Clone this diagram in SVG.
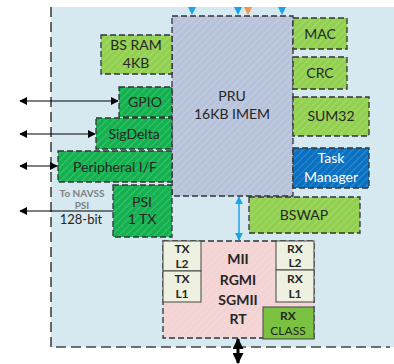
<svg xmlns="http://www.w3.org/2000/svg" width="394" height="364" viewBox="0 0 394 364">
<defs>
<pattern id="hatch" width="5" height="5" patternUnits="userSpaceOnUse" patternTransform="rotate(45)">
<rect width="5" height="5" fill="none"/>
<line x1="0" y1="0" x2="0" y2="5" stroke="#ffffff" stroke-opacity="0.25" stroke-width="1.5"/>
</pattern>
<marker id="ah" viewBox="0 0 10 10" refX="9" refY="5" markerWidth="8" markerHeight="8" markerUnits="userSpaceOnUse" orient="auto-start-reverse">
<path d="M0,0 L10,5 L0,10 z" fill="#000"/>
</marker>
<marker id="ahc" viewBox="0 0 10 10" refX="9" refY="5" markerWidth="8" markerHeight="8" markerUnits="userSpaceOnUse" orient="auto-start-reverse">
<path d="M0,0 L10,5 L0,10 z" fill="#1aa3e8"/>
</marker>
<marker id="ahb" viewBox="0 0 10 10" refX="9" refY="5" markerWidth="11" markerHeight="11" markerUnits="userSpaceOnUse" orient="auto-start-reverse">
<path d="M0,0 L10,5 L0,10 z" fill="#000"/>
</marker>
</defs>
<style>
.t{font-family:Lato,"Open Sans","Liberation Sans",sans-serif;font-size:14px;fill:#262626;text-anchor:middle}
.s{font-size:12px}
.w{fill:#ffffff}
.dash{stroke:#333;stroke-width:1.3;stroke-dasharray:6,3}
.lg{fill:#92d050}
.dg{fill:#13b14f}
.h{fill:url(#hatch)}
</style>
<rect x="51" y="7" width="343" height="340" fill="#d6e9f1"/>
<path d="M51,7 V347 H390" fill="none" stroke="#444" stroke-width="1.6" stroke-dasharray="10,5"/>

<g id="pru"><rect x="172" y="16" width="121" height="180" fill="#b7c3da"/><rect x="172" y="16" width="121" height="180" class="h"/><rect x="172" y="16" width="121" height="180" fill="none" class="dash"/><text class="t" x="232" y="101">PRU</text><text class="t" x="232" y="119">16KB IMEM</text></g>

<g id="bsram"><rect x="101" y="35" width="71" height="39" class="lg"/><rect x="101" y="35" width="71" height="39" class="h"/><rect x="101" y="35" width="71" height="39" fill="none" class="dash"/><text class="t" x="136" y="50">BS RAM</text><text class="t" x="136" y="68">4KB</text></g>
<g id="gpio"><rect x="119" y="87" width="53" height="30" class="dg"/><rect x="119" y="87" width="53" height="30" class="h"/><rect x="119" y="87" width="53" height="30" fill="none" class="dash"/><text class="t" x="145" y="107">GPIO</text></g>
<g id="sigdelta"><rect x="96" y="118" width="76" height="31" class="dg"/><rect x="96" y="118" width="76" height="31" class="h"/><rect x="96" y="118" width="76" height="31" fill="none" class="dash"/><text class="t" x="134" y="139">SigDelta</text></g>
<g id="periph"><rect x="58" y="151" width="114" height="31" class="dg"/><rect x="58" y="151" width="114" height="31" class="h"/><rect x="58" y="151" width="114" height="31" fill="none" class="dash"/><text class="t" x="115" y="172">Peripheral I/F</text></g>
<g id="psi"><rect x="113" y="185" width="59" height="52" class="dg"/><rect x="113" y="185" width="59" height="52" class="h"/><rect x="113" y="185" width="59" height="52" fill="none" class="dash"/><text class="t" x="142" y="207">PSI</text><text class="t" x="142" y="224">1 TX</text></g>
<g id="navss"><text class="t" x="82" y="197" style="font-size:10px;font-weight:bold;fill:#7f7f7f">To NAVSS</text><text class="t" x="82" y="209" style="font-size:10px;font-weight:bold;fill:#7f7f7f">PSI</text><text class="t" x="81" y="224" style="font-size:13px">128-bit</text></g>

<g id="mac"><rect x="293" y="18" width="54" height="31" class="lg"/><rect x="293" y="18" width="54" height="31" class="h"/><rect x="293" y="18" width="54" height="31" fill="none" class="dash"/><text class="t" x="320" y="39">MAC</text></g>
<g id="crc"><rect x="293" y="57" width="54" height="32" class="lg"/><rect x="293" y="57" width="54" height="32" class="h"/><rect x="293" y="57" width="54" height="32" fill="none" class="dash"/><text class="t" x="320" y="78">CRC</text></g>
<g id="sum32"><rect x="293" y="97" width="76" height="39" class="lg"/><rect x="293" y="97" width="76" height="39" class="h"/><rect x="293" y="97" width="76" height="39" fill="none" class="dash"/><text class="t" x="331" y="121">SUM32</text></g>
<g id="task"><rect x="293" y="148" width="76" height="40" fill="#0a70c2"/><rect x="293" y="148" width="76" height="40" class="h"/><rect x="293" y="148" width="76" height="40" fill="none" class="dash"/><text class="t w" x="331" y="163">Task</text><text class="t w" x="331" y="182">Manager</text></g>
<g id="bswap"><rect x="249" y="197" width="111" height="36" class="lg"/><rect x="249" y="197" width="111" height="36" class="h"/><rect x="249" y="197" width="111" height="36" fill="none" class="dash"/><text class="t" x="304" y="220">BSWAP</text></g>

<g id="mii"><rect x="163" y="241" width="151" height="97" fill="#f3d3d3"/><rect x="163" y="241" width="151" height="97" class="h"/><rect x="163" y="241" width="151" height="97" fill="none" class="dash"/><text class="t" x="238" y="264" style="font-weight:bold">MII</text><text class="t" x="238" y="285" style="font-weight:bold">RGMI</text><text class="t" x="238" y="305" style="font-weight:bold">SGMII</text><text class="t" x="238" y="324" style="font-weight:bold">RT</text></g>
<g id="txl2"><rect x="163" y="241" width="38" height="30" fill="#eef0e0" stroke="#444" stroke-width="1"/><text class="t s" x="182" y="253" style="font-weight:bold">TX</text><text class="t s" x="182" y="268" style="font-weight:bold">L2</text></g>
<g id="txl1"><rect x="163" y="271" width="38" height="31" fill="#eef0e0" stroke="#444" stroke-width="1"/><text class="t s" x="182" y="283" style="font-weight:bold">TX</text><text class="t s" x="182" y="298" style="font-weight:bold">L1</text></g>
<g id="rxl2"><rect x="276" y="241" width="38" height="29" fill="#eef0e0" stroke="#444" stroke-width="1"/><text class="t s" x="295" y="253" style="font-weight:bold">RX</text><text class="t s" x="295" y="267" style="font-weight:bold">L2</text></g>
<g id="rxl1"><rect x="276" y="270" width="38" height="32" fill="#eef0e0" stroke="#444" stroke-width="1"/><text class="t s" x="295" y="283" style="font-weight:bold">RX</text><text class="t s" x="295" y="298" style="font-weight:bold">L1</text></g>
<g id="rxclass"><rect x="263" y="307" width="51" height="32" fill="#7cc242" stroke="#444" stroke-width="1"/><text class="t s" x="288" y="320" style="font-weight:bold">RX</text><text class="t s" x="288" y="335">CLASS</text></g>

<g id="connectors">
<line x1="20" y1="101" x2="118" y2="101" stroke="#000" stroke-width="1.2" marker-start="url(#ah)" marker-end="url(#ah)"/>
<line x1="20" y1="134" x2="95" y2="134" stroke="#000" stroke-width="1.2" marker-start="url(#ah)" marker-end="url(#ah)"/>
<line x1="20" y1="166" x2="57" y2="166" stroke="#000" stroke-width="1.2" marker-start="url(#ah)" marker-end="url(#ah)"/>
<line x1="113" y1="211" x2="20" y2="211" stroke="#000" stroke-width="1.2" marker-end="url(#ah)"/>
<line x1="239" y1="197" x2="239" y2="240" stroke="#1aa3e8" stroke-width="1.5" marker-start="url(#ahc)" marker-end="url(#ahc)"/>
<line x1="238" y1="339" x2="238" y2="363" stroke="#000" stroke-width="3" marker-start="url(#ahb)" marker-end="url(#ahb)"/>
<path d="M188,7 h8 l-4,8 z" fill="#1aa3e8"/>
<path d="M234,7 h8 l-4,8 z" fill="#1aa3e8"/>
<path d="M244,7 h8 l-4,8 z" fill="#f4934a"/>
<path d="M278,7 h8 l-4,8 z" fill="#1aa3e8"/>
<line x1="282" y1="7" x2="282" y2="10" stroke="#1aa3e8" stroke-width="1.5"/>
</g>
</svg>
